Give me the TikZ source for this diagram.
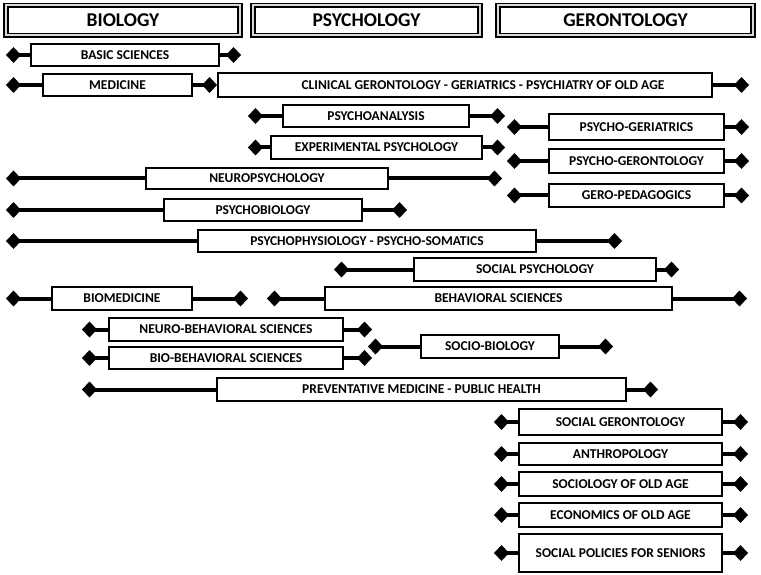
\documentclass[tikz,border=0pt]{standalone}
\usepackage{fontspec}
\setmainfont{Carlito}
\usepackage{tikz}
\usetikzlibrary{arrows.meta,positioning}

\begin{document}
\begin{tikzpicture}[x=1pt,y=-1pt,
  head/.style={draw,line width=1.6pt,double=black!15,double distance=2pt,
               fill=white,inner sep=0pt,minimum width=234pt,minimum height=30pt,
               font=\fontsize{19.5}{21}\selectfont\bfseries},
  field/.style={draw,line width=2.4pt,fill=white,inner sep=0pt,
               font=\fontsize{13.5}{15}\selectfont\bfseries},
  link/.style={line width=4pt,-{Diamond[length=15pt,width=16pt]}}]
\useasboundingbox (0,0) rectangle (761,575);
% discipline headers
\node[head] (bio) at (123,20.5) {BIOLOGY};
\node[head,minimum width=227pt] (psy) at (366.5,20.5) {PSYCHOLOGY};
\node[head,minimum width=255pt] (ger) at (625.5,20.5) {GERONTOLOGY};
% fields
\node[field,minimum width=187.5pt,minimum height=21.5pt] (basic) at (125,55) {BASIC SCIENCES};
\node[field,minimum width=148.5pt,minimum height=22.5pt] (medicine) at (117.5,85) {MEDICINE};
\node[field,minimum width=493.5pt,minimum height=23.5pt] (clinical) at (465,85) {\hspace*{36pt}CLINICAL GERONTOLOGY - GERIATRICS - PSYCHIATRY OF OLD AGE};
\node[field,minimum width=185.5pt,minimum height=21.5pt] (analysis) at (376,116) {PSYCHOANALYSIS};
\node[field,minimum width=210.5pt,minimum height=22.5pt] (experim) at (376.5,147.5) {EXPERIMENTAL PSYCHOLOGY};
\node[field,minimum width=174.5pt,minimum height=25.5pt] (psyger) at (636.5,127) {PSYCHO-GERIATRICS};
\node[field,minimum width=174.5pt,minimum height=23.5pt] (psygeront) at (636.5,161) {PSYCHO-GERONTOLOGY};
\node[field,minimum width=174.5pt,minimum height=23pt] (peda) at (636.5,195.5) {GERO-PEDAGOGICS};
\node[field,minimum width=241.5pt,minimum height=21.5pt] (neuro) at (267,178.5) {NEUROPSYCHOLOGY};
\node[field,minimum width=197.5pt,minimum height=21.5pt] (psybio) at (263,210) {PSYCHOBIOLOGY};
\node[field,minimum width=337.5pt,minimum height=21.5pt] (physio) at (367,241) {PSYCHOPHYSIOLOGY - PSYCHO-SOMATICS};
\node[field,minimum width=241.5pt,minimum height=22.5pt] (socpsy) at (535,269.5) {SOCIAL PSYCHOLOGY};
\node[field,minimum width=139.5pt,minimum height=22.5pt] (biomed) at (122,298.5) {BIOMEDICINE};
\node[field,minimum width=346.5pt,minimum height=22.5pt] (behav) at (498.5,298.5) {BEHAVIORAL SCIENCES};
\node[field,minimum width=233.5pt,minimum height=22.5pt] (neurobeh) at (226,329.5) {NEURO-BEHAVIORAL SCIENCES};
\node[field,minimum width=233.5pt,minimum height=21.5pt] (biobeh) at (226,358) {BIO-BEHAVIORAL SCIENCES};
\node[field,minimum width=137.5pt,minimum height=22.5pt] (sociobio) at (490,346.5) {SOCIO-BIOLOGY};
\node[field,minimum width=408.5pt,minimum height=22.5pt] (prevent) at (421.5,389.5) {PREVENTATIVE MEDICINE - PUBLIC HEALTH};
\node[field,minimum width=202.5pt,minimum height=25.5pt] (socger) at (620.5,422) {SOCIAL GERONTOLOGY};
\node[field,minimum width=202.5pt,minimum height=21.5pt] (anthro) at (620.5,454) {ANTHROPOLOGY};
\node[field,minimum width=202.5pt,minimum height=23.5pt] (sociol) at (620.5,484) {SOCIOLOGY OF OLD AGE};
\node[field,minimum width=202.5pt,minimum height=23.5pt] (econ) at (620.5,515) {ECONOMICS OF OLD AGE};
\node[field,minimum width=202.5pt,minimum height=37.5pt] (policy) at (620.5,553) {SOCIAL POLICIES FOR SENIORS};
% diamond ends
\coordinate (basic-l) at (6,55);      \coordinate (basic-r) at (241,55);
\coordinate (medicine-l) at (6,85);
\coordinate (clinical-r) at (749,85);
\coordinate (analysis-l) at (248,116); \coordinate (analysis-r) at (505,116);
\coordinate (experim-l) at (248,147.5); \coordinate (experim-r) at (505,147.5);
\coordinate (psyger-l) at (507,127);   \coordinate (psyger-r) at (749,127);
\coordinate (psygeront-l) at (507,161); \coordinate (psygeront-r) at (749,161);
\coordinate (peda-l) at (507,195.5);  \coordinate (peda-r) at (749,195.5);
\coordinate (neuro-l) at (6,178.5);   \coordinate (neuro-r) at (502,178.5);
\coordinate (psybio-l) at (6,210);    \coordinate (psybio-r) at (407,210);
\coordinate (physio-l) at (6,241);    \coordinate (physio-r) at (622,241);
\coordinate (socpsy-l) at (334,269.5); \coordinate (socpsy-r) at (679,269.5);
\coordinate (biomed-l) at (6,298.5);  \coordinate (biomed-r) at (248,298.5);
\coordinate (behav-l) at (267,298.5); \coordinate (behav-r) at (747,298.5);
\coordinate (neurobeh-l) at (82,329.5); \coordinate (neurobeh-r) at (372,329.5);
\coordinate (biobeh-l) at (82,358);   \coordinate (biobeh-r) at (372,358);
\coordinate (sociobio-l) at (368,346.5); \coordinate (sociobio-r) at (613,346.5);
\coordinate (prevent-l) at (82,389.5); \coordinate (prevent-r) at (658,389.5);
\foreach \n/\y in {socger/422,anthro/454,sociol/484,econ/515,policy/553}{
  \coordinate (\n-l) at (494,\y); \coordinate (\n-r) at (748,\y);}
% connectors
\draw[link] (medicine.east) -- (clinical.west);
\draw[link] (medicine.west) -- (medicine-l);
\draw[link] (clinical.east) -- (clinical-r);
\foreach \n in {basic,analysis,experim,psyger,psygeront,peda,neuro,psybio,physio,
  socpsy,biomed,behav,neurobeh,biobeh,sociobio,prevent,socger,anthro,sociol,econ,policy}{
  \draw[link] (\n.west) -- (\n-l);
  \draw[link] (\n.east) -- (\n-r);}
\end{tikzpicture}
\end{document}
